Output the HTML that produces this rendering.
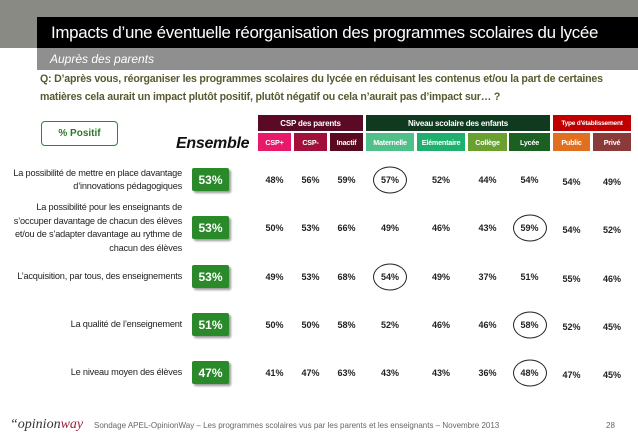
<!DOCTYPE html>
<html><head><meta charset="utf-8">
<style>
body{margin:0;width:638px;height:442px;background:#fff;position:relative;overflow:hidden;font-family:"Liberation Sans",sans-serif}
.abs{position:absolute}
.hd{position:absolute;color:#fff;font-size:8px;display:flex;align-items:center;justify-content:center;font-weight:bold;white-space:nowrap;letter-spacing:-0.2px}
.lbl{position:absolute;right:456px;text-align:right;font-size:9.2px;color:#222;line-height:13.5px;width:190px;white-space:pre-line;letter-spacing:-0.2px}
.ens{position:absolute;left:192px;width:37px;height:23px;background:#2a8a2a;color:#fff;font-weight:bold;font-size:12px;display:flex;align-items:center;justify-content:center;box-shadow:2px 2px 2px #999;border-radius:2px}
.val{position:absolute;font-size:9px;font-weight:bold;color:#222;transform:translate(-50%,-50%)}
.circ{position:absolute;width:32px;height:25px;border:1.3px solid #222;border-radius:50%;transform:translate(-50%,-50%)}
</style></head><body>
<div class="abs" style="left:0;top:0;width:638px;height:48px;background:#8a8a84"></div>
<div class="abs" style="left:37px;top:17px;width:601px;height:31px;background:#000;color:#fff;font-size:16.9px;line-height:31px;padding-left:14px;box-sizing:border-box;white-space:nowrap;letter-spacing:-0.3px;overflow:hidden">Impacts d’une éventuelle réorganisation des programmes scolaires du lycée</div>
<div class="abs" style="left:37px;top:48px;width:601px;height:22px;background:#8f8f8f;color:#fff;font-size:12px;font-style:italic;line-height:22px;padding-left:13px;box-sizing:border-box">Auprès des parents</div>
<div class="abs" style="left:40px;top:70px;width:598px;font-size:10.6px;font-weight:bold;color:#5a5a30;line-height:18px;letter-spacing:-0.2px;white-space:nowrap">Q: D’après vous, réorganiser les programmes scolaires du lycée en réduisant les contenus et/ou la part de certaines<br>matières cela aurait un impact plutôt positif, plutôt négatif ou cela n’aurait pas d’impact sur… ?</div>
<div class="abs" style="left:41px;top:121px;width:75px;height:23px;border:1.5px solid #2a8a2a;border-radius:4px;color:#2a7a2a;font-weight:bold;font-size:10px;display:flex;align-items:center;justify-content:center">% Positif</div>
<div class="abs" style="left:176px;top:135px;font-size:16px;font-weight:bold;font-style:italic;color:#111;letter-spacing:-0.3px">Ensemble</div>
<div id="hdr"></div>
<div id="rows"></div>
<div class="abs" style="left:10px;top:417px;font-family:'Liberation Serif',serif;font-style:italic;font-size:14px;color:#333">“opinion<span style="color:#a0203a">way</span></div>
<div class="abs" style="left:94px;top:421px;font-size:8px;color:#666">Sondage APEL-OpinionWay – Les programmes scolaires vus par les parents et les enseignants – Novembre 2013</div>
<div class="abs" style="left:606px;top:421px;font-size:8px;color:#666">28</div>
<script>
const groups=["CSP des parents","Niveau scolaire des enfants","Type d'établissement"];
const cols=["CSP+","CSP-","Inactif","Maternelle","Elémentaire","Collège","Lycée","Public","Privé"];
const labels=["La possibilité de mettre en place davantage\nd’innovations pédagogiques","La possibilité pour les enseignants de\ns’occuper davantage de chacun des élèves\net/ou de s’adapter davantage au rythme de\nchacun des élèves","L’acquisition, par tous, des enseignements","La qualité de l’enseignement","Le niveau moyen des élèves"];
const ensemble=[53,53,53,51,47];
const values=[[48,56,59,57,52,44,54,54,49],[50,53,66,49,46,43,59,54,52],[49,53,68,54,49,37,51,55,46],[50,50,58,52,46,46,58,52,45],[41,47,63,43,43,36,48,47,45]];
const circled=[3,6,3,6,6];
const colX=[[258,291],[294,327],[330,363],[366,414],[417,465],[468,507],[509,550],[553,590],[593,631]];
const colColors=["#e8186a","#a0103a","#5a0a20","#4fc08a","#1fb070","#6aa030","#1a6020","#e07020","#8b3a3a"];
const grpX=[[258,363],[366,550],[553,631]];
const grpColors=["#5a0a25","#0f3a20","#c00000"];
const rowY=[180,228,277,325,373];
const hdr=document.getElementById('hdr');
groups.forEach((g,i)=>{const d=document.createElement('div');d.className='hd';


d.style.cssText=`left:${grpX[i][0]}px;top:115px;width:${grpX[i][1]-grpX[i][0]}px;height:16px;background:${grpColors[i]};font-size:${i==2?6.5:8}px`;d.textContent=g;hdr.appendChild(d);});
cols.forEach((c,i)=>{const d=document.createElement('div');d.className='hd';


d.style.cssText=`left:${colX[i][0]}px;top:133px;width:${colX[i][1]-colX[i][0]}px;height:18px;background:${colColors[i]};font-size:7.2px`;d.textContent=c;hdr.appendChild(d);});
const rows=document.getElementById('rows');
labels.forEach((l,r)=>{const y=rowY[r];
const lb=document.createElement('div');lb.className='lbl';


lb.textContent=l;rows.appendChild(lb);lb.style.top=(y-lb.offsetHeight/2)+'px';
const e=document.createElement('div');e.className='ens';


e.style.top=(y-12)+'px';e.textContent=ensemble[r]+'%';rows.appendChild(e);
values[r].forEach((v,c)=>{const cx=(colX[c][0]+colX[c][1])/2;const cy=y+(c>=7?2:0);
const t=document.createElement('div');t.className='val';


t.style.left=cx+'px';t.style.top=cy+'px';t.textContent=v+'%';rows.appendChild(t);
if(circled[r]===c){const o=document.createElement('div');o.className='circ';


o.style.left=cx+'px';o.style.top=cy+'px';rows.appendChild(o);}
});});
</script>
</body></html>
